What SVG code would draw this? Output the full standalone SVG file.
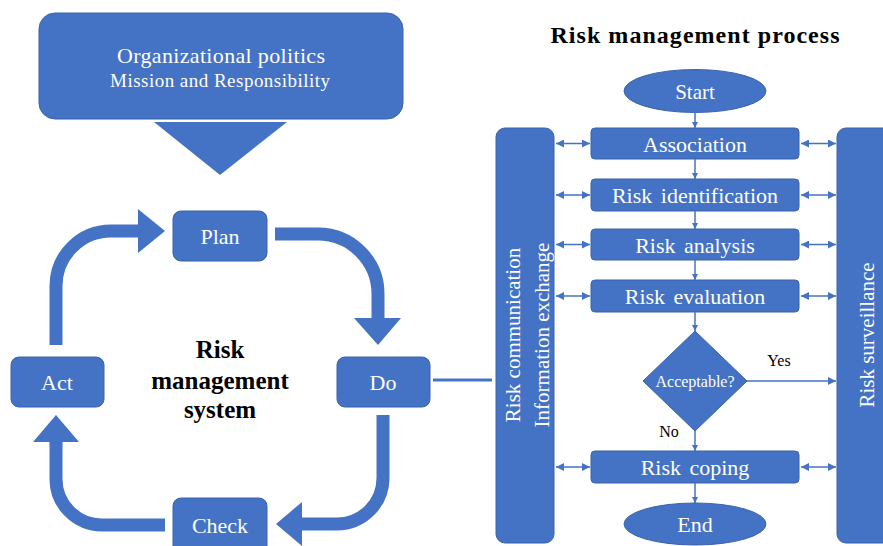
<svg xmlns="http://www.w3.org/2000/svg" width="883" height="546" viewBox="0 0 883 546">
<defs>
<style>
.box{fill:#4472C4;stroke:#3A63AD;stroke-width:1}
.wt{fill:#fff;font-family:"Liberation Serif","Times New Roman",serif;text-anchor:middle}
.bt{fill:#000;font-family:"Liberation Serif","Times New Roman",serif;text-anchor:middle;font-weight:bold}
.lab{fill:#000;font-family:"Liberation Serif","Times New Roman",serif;font-size:16px;text-anchor:middle}
.big{fill:none;stroke:#4472C4;stroke-width:13}
.head{fill:#4472C4}
.thin{fill:none;stroke:#4472C4;stroke-width:1.5}
</style>
<marker id="ah" viewBox="0 0 10 10" refX="10" refY="5" markerWidth="6" markerHeight="6" markerUnits="userSpaceOnUse" orient="auto-start-reverse">
<path d="M0,0 L10,5 L0,10 z" fill="#4472C4"/>
</marker>
<marker id="ah2" viewBox="0 0 10 10" refX="10" refY="5" markerWidth="8" markerHeight="8" markerUnits="userSpaceOnUse" orient="auto-start-reverse">
<path d="M0,0 L10,5 L0,10 z" fill="#4472C4"/>
</marker>
</defs>
<rect width="883" height="546" fill="#fff"/>

<g id="org">
<rect class="box" x="39" y="13" width="364" height="106" rx="16"/>
<polygon class="head" points="154,122 287,122 220,175"/>
<text class="wt" x="221" y="63" font-size="22" textLength="208" lengthAdjust="spacing">Organizational politics</text>
<text class="wt" x="220" y="87" font-size="19" textLength="220" lengthAdjust="spacing">Mission and Responsibility</text>
</g>

<g id="cycle-arrows">
<path class="big" d="M56 345 V286 A55 55 0 0 1 111 231 H139"/>
<polygon class="head" points="138,209 165,231 138,253"/>
<path class="big" d="M275 234 H318 A60 60 0 0 1 378 294 V319"/>
<polygon class="head" points="354,318 401,318 378,345"/>
<path class="big" d="M383 415 V478 A46 46 0 0 1 337 524 H301"/>
<polygon class="head" points="302,502 302,546 276,524"/>
<path class="big" d="M165 525 H102 A46 46 0 0 1 56 479 V441"/>
<polygon class="head" points="33,442 79,442 56,415"/>
</g>

<g id="plan"><rect class="box" x="173" y="211" width="94" height="50" rx="8"/><text class="wt" x="220" y="244" font-size="22">Plan</text></g>
<g id="do"><rect class="box" x="337" y="357" width="93" height="50" rx="8"/><text class="wt" x="383" y="390" font-size="22">Do</text></g>
<g id="act"><rect class="box" x="11" y="357" width="93" height="50" rx="8"/><text class="wt" x="57" y="390" font-size="22">Act</text></g>
<g id="check"><rect class="box" x="173" y="498" width="94" height="60" rx="8"/><text class="wt" x="220" y="533" font-size="22">Check</text></g>

<g id="center-title">
<text class="bt" x="220" y="358" font-size="25">Risk</text>
<text class="bt" x="220" y="389" font-size="25">management</text>
<text class="bt" x="220" y="418" font-size="25">system</text>
</g>

<g id="title"><text class="bt" x="695" y="43" font-size="24" textLength="289" lengthAdjust="spacing">Risk management process</text></g>

<g id="comm">
<rect class="box" x="496" y="128" width="58" height="415" rx="9"/>
<text class="wt" font-size="21" transform="translate(520,335) rotate(-90)">Risk communication</text>
<text class="wt" font-size="21" transform="translate(549,335) rotate(-90)">Information exchange</text>
</g>
<g id="surv">
<rect class="box" x="837" y="128" width="60" height="415" rx="9"/>
<text class="wt" font-size="21" transform="translate(874,335) rotate(-90)">Risk surveillance</text>
</g>

<g id="start"><ellipse class="box" cx="695" cy="91" rx="71" ry="21.5"/><text class="wt" x="695" y="99" font-size="21">Start</text></g>
<g id="association"><rect class="box" x="591" y="128" width="208" height="31" rx="4"/><text class="wt" x="695" y="152" font-size="22" word-spacing="3">Association</text></g>
<g id="identification"><rect class="box" x="591" y="179" width="208" height="32" rx="4"/><text class="wt" x="695" y="203" font-size="22" word-spacing="3">Risk identification</text></g>
<g id="analysis"><rect class="box" x="591" y="229" width="208" height="31" rx="4"/><text class="wt" x="695" y="253" font-size="22" word-spacing="3">Risk analysis</text></g>
<g id="evaluation"><rect class="box" x="591" y="280" width="208" height="32" rx="4"/><text class="wt" x="695" y="304" font-size="22" word-spacing="3">Risk evaluation</text></g>
<g id="acceptable"><polygon class="box" points="695,331 747,381 695,431 643,381"/><text class="wt" x="695" y="387" font-size="16">Acceptable?</text></g>
<g id="coping"><rect class="box" x="591" y="451" width="208" height="32" rx="4"/><text class="wt" x="695" y="475" font-size="22" word-spacing="3">Risk coping</text></g>
<g id="end"><ellipse class="box" cx="695" cy="524" rx="71" ry="21"/><text class="wt" x="695" y="532" font-size="22">End</text></g>

<g id="connectors">
<line x1="433" y1="380" x2="492" y2="380" stroke="#4472C4" stroke-width="3"/>
<line class="thin" x1="695" y1="112" x2="695" y2="128" marker-end="url(#ah)"/>
<line class="thin" x1="695" y1="159" x2="695" y2="179" marker-end="url(#ah)"/>
<line class="thin" x1="695" y1="211" x2="695" y2="229" marker-end="url(#ah)"/>
<line class="thin" x1="695" y1="260" x2="695" y2="280" marker-end="url(#ah)"/>
<line class="thin" x1="695" y1="312" x2="695" y2="331" marker-end="url(#ah)"/>
<line class="thin" x1="695" y1="431" x2="695" y2="451" marker-end="url(#ah)"/>
<line class="thin" x1="695" y1="483" x2="695" y2="503" marker-end="url(#ah)"/>
<line class="thin" x1="747" y1="381" x2="836" y2="381" marker-end="url(#ah2)"/>
<line class="thin" x1="556" y1="143.5" x2="590" y2="143.5" marker-start="url(#ah2)" marker-end="url(#ah2)"/>
<line class="thin" x1="556" y1="195" x2="590" y2="195" marker-start="url(#ah2)" marker-end="url(#ah2)"/>
<line class="thin" x1="556" y1="244.5" x2="590" y2="244.5" marker-start="url(#ah2)" marker-end="url(#ah2)"/>
<line class="thin" x1="556" y1="296" x2="590" y2="296" marker-start="url(#ah2)" marker-end="url(#ah2)"/>
<line class="thin" x1="556" y1="467" x2="590" y2="467" marker-start="url(#ah2)" marker-end="url(#ah2)"/>
<line class="thin" x1="801" y1="143.5" x2="836" y2="143.5" marker-start="url(#ah2)" marker-end="url(#ah2)"/>
<line class="thin" x1="801" y1="195" x2="836" y2="195" marker-start="url(#ah2)" marker-end="url(#ah2)"/>
<line class="thin" x1="801" y1="244.5" x2="836" y2="244.5" marker-start="url(#ah2)" marker-end="url(#ah2)"/>
<line class="thin" x1="801" y1="296" x2="836" y2="296" marker-start="url(#ah2)" marker-end="url(#ah2)"/>
<line class="thin" x1="801" y1="467" x2="836" y2="467" marker-start="url(#ah2)" marker-end="url(#ah2)"/>
<text class="lab" x="779" y="366">Yes</text>
<text class="lab" x="669" y="437">No</text>
</g>
</svg>
